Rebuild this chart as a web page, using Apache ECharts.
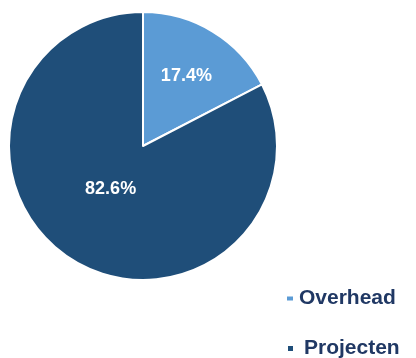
<!DOCTYPE html>
<html>
<head>
<meta charset="utf-8">
<script src="https://cdn.jsdelivr.net/npm/echarts@6/dist/echarts.min.js"></script>
<style>html,body{margin:0;padding:0;background:#fff}#c{width:416px;height:358px}</style>
</head>
<body>
<div id="c"></div>
<script>
const categories = ['Overhead', 'Projecten'];
const values = [17.4, 82.6];
const colors = ['#5B9BD5', '#1F4E79'];
const labelOffsets = [[7, -10], [4, -17]];

const chart = echarts.init(document.getElementById('c'), null, {renderer: 'canvas'});
const legendText = {fontFamily: 'Liberation Sans, Arial, sans-serif', fontWeight: 'bold', fontSize: 21, color: '#203864'};
chart.setOption({
  animation: false,
  color: colors,
  legend: [
    {data: [categories[0]], orient: 'vertical', left: 280, top: 283, icon: 'rect', itemWidth: 8, itemHeight: 6, textStyle: Object.assign({}, legendText)},
    {data: [categories[1]], orient: 'vertical', left: 281, top: 333, icon: 'rect', itemWidth: 7, itemHeight: 7, textStyle: Object.assign({padding: [0, 0, 0, 5]}, legendText)}
  ],
  series: [{
    type: 'pie',
    center: [143, 146],
    radius: 134,
    startAngle: 90,
    clockwise: true,
    itemStyle: {borderColor: '#fff', borderWidth: 2},
    label: {
      show: true, position: 'inside',
      formatter: p => p.value.toFixed(1) + '%',
      color: '#fff', fontFamily: 'Liberation Sans, Arial, sans-serif', fontWeight: 'bold', fontSize: 18
    },
    labelLine: {show: false},
    emphasis: {disabled: true},
    data: categories.map((n, i) => ({name: n, value: values[i], label: {offset: labelOffsets[i]}}))
  }]
});
</script>
</body>
</html>
